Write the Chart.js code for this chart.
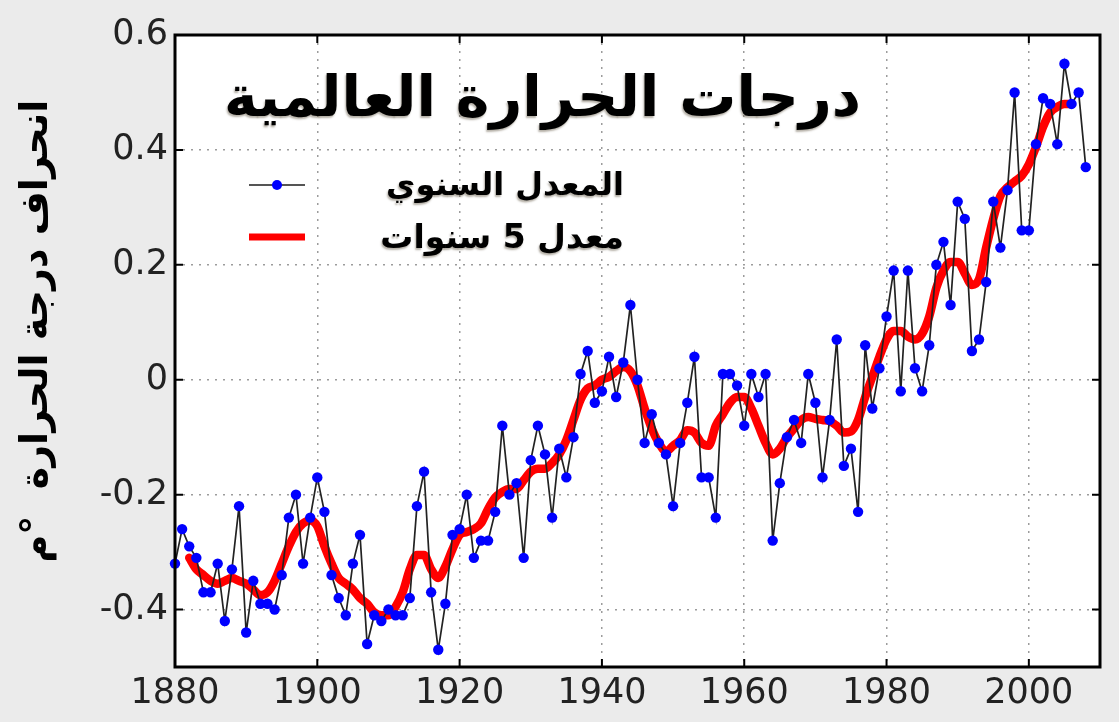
<!DOCTYPE html>
<html lang="ar">
<head>
<meta charset="utf-8">
<title>درجات الحرارة العالمية</title>
<script src="https://cdn.jsdelivr.net/npm/chart.js@4.4.1/dist/chart.umd.min.js"></script>
<style>
    html, body { margin: 0; padding: 0; background: #ebebeb; }
    #wrap { width: 1119px; height: 722px; }
</style>
</head>
<body>
<div id="wrap"><canvas id="tempChart" width="1119" height="722"></canvas></div>
<script>
// Labels
const chartTitle = 'درجات الحرارة العالمية';
// leading spaces nudge the rotated title up a little, like the original
const yAxisTitle = '   انحراف درجة الحرارة  °م';
const annualLabel = 'المعدل السنوي';
const meanLabel = 'معدل 5 سنوات';

// Axis ticks
const xTicks = [1880, 1900, 1920, 1940, 1960, 1980, 2000];
const yTicks = [-0.4, -0.2, 0, 0.2, 0.4, 0.6];

// Annual anomaly, one value per year from 1880 to 2008
const firstYear = 1880;
const annualTemp = [
    -0.32, -0.26, -0.29, -0.31, -0.37, -0.37, -0.32, -0.42, -0.33, -0.22,
    -0.44, -0.35, -0.39, -0.39, -0.40, -0.34, -0.24, -0.20, -0.32, -0.24,
    -0.17, -0.23, -0.34, -0.38, -0.41, -0.32, -0.27, -0.46, -0.41, -0.42,
    -0.40, -0.41, -0.41, -0.38, -0.22, -0.16, -0.37, -0.47, -0.39, -0.27,
    -0.26, -0.20, -0.31, -0.28, -0.28, -0.23, -0.08, -0.20, -0.18, -0.31,
    -0.14, -0.08, -0.13, -0.24, -0.12, -0.17, -0.10, 0.01, 0.05, -0.04,
    -0.02, 0.04, -0.03, 0.03, 0.13, 0.00, -0.11, -0.06, -0.11, -0.13,
    -0.22, -0.11, -0.04, 0.04, -0.17, -0.17, -0.24, 0.01, 0.01, -0.01,
    -0.08, 0.01, -0.03, 0.01, -0.28, -0.18, -0.10, -0.07, -0.11, 0.01,
    -0.04, -0.17, -0.07, 0.07, -0.15, -0.12, -0.23, 0.06, -0.05, 0.02,
    0.11, 0.19, -0.02, 0.19, 0.02, -0.02, 0.06, 0.20, 0.24, 0.13,
    0.31, 0.28, 0.05, 0.07, 0.17, 0.31, 0.23, 0.33, 0.50, 0.26,
    0.26, 0.41, 0.49, 0.48, 0.41, 0.55, 0.48, 0.50, 0.37
];

// 5 year mean, one value per year from 1882 to 2006
const meanFirstYear = 1882;
const fiveYearMean = [
    -0.31, -0.33, -0.34, -0.35, -0.355, -0.35, -0.345, -0.35,
    -0.355, -0.365, -0.375, -0.37, -0.35, -0.32, -0.29, -0.265, -0.25, -0.245,
    -0.255, -0.29, -0.32, -0.345, -0.355, -0.365, -0.38, -0.39, -0.405, -0.41,
    -0.41, -0.395, -0.37, -0.33, -0.305, -0.305, -0.33, -0.345, -0.325, -0.295,
    -0.27, -0.265, -0.26, -0.25, -0.225, -0.205, -0.195, -0.19, -0.19, -0.175,
    -0.16, -0.155, -0.155, -0.145, -0.13, -0.105, -0.07, -0.035, -0.015, -0.01,
    0.00, 0.005, 0.015, 0.022, 0.015, -0.01, -0.05, -0.085, -0.11, -0.125,
    -0.115, -0.105, -0.088, -0.092, -0.11, -0.115, -0.08, -0.06, -0.04, -0.03,
    -0.03, -0.05, -0.08, -0.11, -0.13, -0.12, -0.10, -0.085, -0.07, -0.065,
    -0.068, -0.07, -0.072, -0.08, -0.092, -0.09, -0.07, -0.03, 0.005, 0.04,
    0.07, 0.085, 0.085, 0.075, 0.07, 0.08, 0.11, 0.16, 0.19, 0.205,
    0.205, 0.185, 0.165, 0.175, 0.23, 0.28, 0.32, 0.335, 0.345, 0.355,
    0.375, 0.405, 0.44, 0.465, 0.475, 0.48, 0.48
];

const arabicFont = '"DejaVu Sans", sans-serif';

// white plot area, black frame with inward ticks
const plotFrame = {
    id: 'plotFrame',
    beforeDraw(chart) {
        const { ctx, chartArea: a } = chart;
        ctx.save();
        ctx.fillStyle = '#ffffff';
        ctx.fillRect(a.left, a.top, a.right - a.left, a.bottom - a.top);
        ctx.restore();
    },
    afterDatasetsDraw(chart) {
        const { ctx, chartArea: a, scales } = chart;
        ctx.save();
        ctx.strokeStyle = '#000';
        ctx.lineWidth = 2;
        ctx.beginPath();
        xTicks.forEach(t => {
            const px = scales.x.getPixelForValue(t);
            ctx.moveTo(px, a.bottom); ctx.lineTo(px, a.bottom - 8);
            ctx.moveTo(px, a.top); ctx.lineTo(px, a.top + 8);
        });
        yTicks.forEach(t => {
            const py = scales.y.getPixelForValue(t);
            ctx.moveTo(a.left, py); ctx.lineTo(a.left + 8, py);
            ctx.moveTo(a.right, py); ctx.lineTo(a.right - 8, py);
        });
        ctx.stroke();
        ctx.lineWidth = 3;
        ctx.strokeRect(a.left, a.top, a.right - a.left, a.bottom - a.top);
        ctx.restore();
    }
};

function fitFont(ctx, text, size, width) {
    ctx.font = 'bold ' + size + 'px ' + arabicFont;
    const w = ctx.measureText(text).width;
    if (w > width) {
        size = Math.floor(size * width / w);
        ctx.font = 'bold ' + size + 'px ' + arabicFont;
    }
}

// title and legend sit inside the plot area
const insideLegend = {
    id: 'insideLegend',
    afterDraw(chart) {
        const { ctx } = chart;
        ctx.save();
        ctx.fillStyle = '#000';
        ctx.textAlign = 'right';
        ctx.textBaseline = 'middle';
        ctx.shadowColor = 'rgba(90, 80, 60, 0.45)';
        ctx.shadowOffsetX = -1;
        ctx.shadowOffsetY = 2;
        ctx.shadowBlur = 2;

        fitFont(ctx, chartTitle, 62, 645);
        ctx.fillText(chartTitle, 861, 101);

        const rowsY = [185, 237];
        chart.data.datasets.forEach((ds, i) => {
            const y = rowsY[i];
            ctx.shadowColor = 'rgba(90, 80, 60, 0.45)';
            ctx.fillStyle = '#000';
            fitFont(ctx, ds.label, 34, 245);
            ctx.fillText(ds.label, 624, y + 2);

            ctx.shadowColor = 'transparent';
            ctx.strokeStyle = i === 0 ? '#555' : ds.borderColor;
            ctx.lineWidth = i === 0 ? 2 : 7;
            ctx.beginPath();
            ctx.moveTo(249, y);
            ctx.lineTo(305, y);
            ctx.stroke();
            if (ds.pointRadius > 0) {
                ctx.fillStyle = ds.pointBackgroundColor;
                ctx.beginPath();
                ctx.arc(277, y, 5, 0, Math.PI * 2);
                ctx.fill();
            }
        });
        ctx.restore();
    }
};

const tickFont = { family: '"DejaVu Sans", sans-serif', size: 35 };
const gridStyle = { color: '#9c9c9c', lineWidth: 1.5, drawTicks: false };
const borderStyle = { display: false, dash: [2, 6] };

new Chart(document.getElementById('tempChart'), {
    type: 'line',
    data: {
        datasets: [
            {
                label: annualLabel,
                data: annualTemp.map((v, i) => ({ x: firstYear + i, y: v })),
                borderColor: '#222',
                borderWidth: 1.7,
                pointRadius: 5.2,
                pointBackgroundColor: '#0000ff',
                pointBorderWidth: 0,
                tension: 0,
                clip: false
            },
            {
                label: meanLabel,
                data: fiveYearMean.map((v, i) => ({ x: meanFirstYear + i, y: v })),
                borderColor: '#ff0000',
                borderWidth: 8.5,
                pointRadius: 0,
                cubicInterpolationMode: 'monotone',
                borderCapStyle: 'round',
                borderJoinStyle: 'round'
            }
        ]
    },
    options: {
        responsive: false,
        animation: false,
        layout: { padding: { top: 35, right: 19, bottom: 0, left: 0 } },
        plugins: {
            legend: { display: false },
            title: { display: false },
            tooltip: { enabled: false }
        },
        scales: {
            x: {
                type: 'linear',
                min: 1880,
                max: 2010,
                afterBuildTicks: scale => { scale.ticks = xTicks.map(v => ({ value: v })); },
                afterFit: scale => { scale.height = 55; },
                grid: gridStyle,
                border: borderStyle,
                ticks: {
                    font: tickFont,
                    color: '#222',
                    padding: 6,
                    maxRotation: 0,
                    callback: v => String(v)
                }
            },
            y: {
                type: 'linear',
                min: -0.5,
                max: 0.6,
                afterBuildTicks: scale => { scale.ticks = yTicks.map(v => ({ value: v })); },
                afterFit: scale => { scale.width = 175; },
                grid: gridStyle,
                border: borderStyle,
                ticks: {
                    font: tickFont,
                    color: '#222',
                    padding: 7,
                    callback: v => String(v)
                },
                title: {
                    display: true,
                    text: yAxisTitle,
                    color: '#000',
                    font: { family: arabicFont, size: 38, weight: 'bold' },
                    padding: { top: 14, bottom: 0 }
                }
            }
        }
    },
    plugins: [plotFrame, insideLegend]
});
</script>
</body>
</html>
